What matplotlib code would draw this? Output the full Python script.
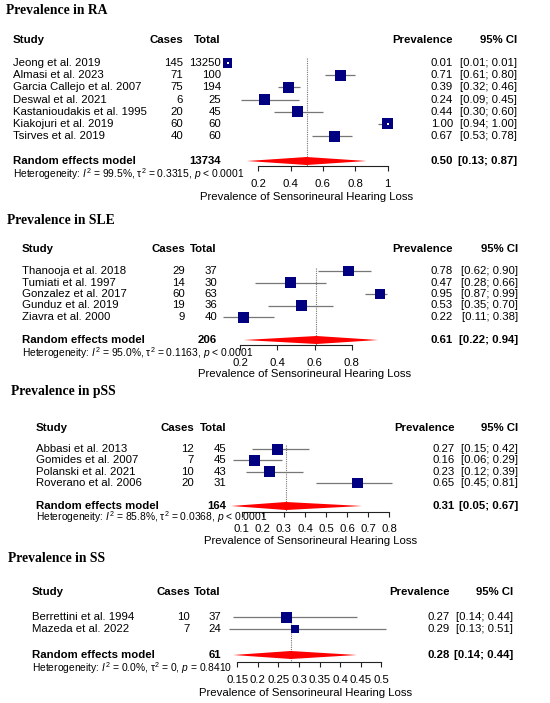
import numpy as np
import matplotlib.pyplot as plt
from matplotlib.transforms import blended_transform_factory

plt.rcParams['font.family'] = ['Liberation Sans', 'DejaVu Sans']
plt.rcParams['mathtext.fontset'] = 'custom'
plt.rcParams['mathtext.rm'] = 'Liberation Sans'
plt.rcParams['mathtext.it'] = 'Liberation Sans:italic'
plt.rcParams['mathtext.bf'] = 'Liberation Sans:bold'

W, H = 550, 703

# ---- RA ----
ra_studies = ["Jeong et al. 2019", "Almasi et al. 2023", "Garcia Callejo et al. 2007",
              "Deswal et al. 2021", "Kastanioudakis et al. 1995", "Kiakojuri et al. 2019",
              "Tsirves et al. 2019"]
ra_cases = [145, 71, 75, 6, 20, 60, 40]
ra_total = [13250, 100, 194, 25, 45, 60, 60]
ra_prev = [0.01, 0.71, 0.39, 0.24, 0.44, 1.00, 0.67]
ra_lower = [0.01, 0.61, 0.32, 0.09, 0.30, 0.94, 0.53]
ra_upper = [0.01, 0.80, 0.46, 0.45, 0.60, 1.00, 0.78]
ra_weight = [10.6, 14.9, 15.0, 14.8, 14.9, 14.9, 14.9]
ra_pooled = [0.50, 0.13, 0.87]
ra_n = 13734
ra_het = r"Heterogeneity: $I^2$ = 99.5%, $\mathrm{\tau}^2$ = 0.3315, $p$ < 0.0001"
ra_ticks = [0.2, 0.4, 0.6, 0.8, 1.0]

# ---- SLE ----
sle_studies = ["Thanooja et al. 2018", "Tumiati et al. 1997", "Gonzalez et al. 2017",
               "Gunduz et al. 2019", "Ziavra et al. 2000"]
sle_cases = [29, 14, 60, 19, 9]
sle_total = [37, 30, 63, 36, 40]
sle_prev = [0.78, 0.47, 0.95, 0.53, 0.22]
sle_lower = [0.62, 0.28, 0.87, 0.35, 0.11]
sle_upper = [0.90, 0.66, 0.99, 0.70, 0.38]
sle_weight = [20.3, 20.1, 18.9, 20.3, 20.4]
sle_pooled = [0.61, 0.22, 0.94]
sle_n = 206
sle_het = r"Heterogeneity: $I^2$ = 95.0%, $\mathrm{\tau}^2$ = 0.1163, $p$ < 0.0001"
sle_ticks = [0.2, 0.4, 0.6, 0.8]

# ---- pSS ----
pss_studies = ["Abbasi et al. 2013", "Gomides et al. 2007", "Polanski et al. 2021",
               "Roverano et al. 2006"]
pss_cases = [12, 7, 10, 20]
pss_total = [45, 45, 43, 31]
pss_prev = [0.27, 0.16, 0.23, 0.65]
pss_lower = [0.15, 0.06, 0.12, 0.45]
pss_upper = [0.42, 0.29, 0.39, 0.81]
pss_weight = [25.8, 23.4, 25.2, 25.6]
pss_pooled = [0.31, 0.05, 0.67]
pss_n = 164
pss_het = r"Heterogeneity: $I^2$ = 85.8%, $\mathrm{\tau}^2$ = 0.0368, $p$ < 0.0001"
pss_ticks = [0.1, 0.2, 0.3, 0.4, 0.5, 0.6, 0.7, 0.8]

# ---- SS ----
ss_studies = ["Berrettini et al. 1994", "Mazeda et al. 2022"]
ss_cases = [10, 7]
ss_total = [37, 24]
ss_prev = [0.27, 0.29]
ss_lower = [0.14, 0.13]
ss_upper = [0.44, 0.51]
ss_weight = [64.0, 36.0]
ss_pooled = [0.28, 0.14, 0.44]
ss_n = 61
ss_het = r"Heterogeneity: $I^2$ = 0.0%, $\mathrm{\tau}^2$ = 0, $p$ = 0.8410"
ss_ticks = [0.15, 0.2, 0.25, 0.3, 0.35, 0.4, 0.45, 0.5]

FS = 8.2
NAVY = '#000080'
GREY = '#777777'

fig = plt.figure(figsize=(W / 100, H / 100), dpi=100)
fig.patch.set_facecolor('white')


def forest(title, studies, cases, total, prev, lower, upper, weight, pooled, n, het, ticks, lay):
    ax = fig.add_axes([0, 0, 1, 1])
    ax.set_facecolor('none')
    x0, sc = lay['x0'], lay['scale']
    y1, pitch = lay['first'], lay['pitch']
    ax.set_xlim(-x0 / sc, (W - x0) / sc)
    ax.set_ylim(1 + (H - y1) / pitch, 1 - y1 / pitch)

    def row(py):
        return 1 + (py - y1) / pitch

    tr = blended_transform_factory(ax.transAxes, ax.transData)

    def txt(px, r, s, ha='left', bold=False, size=FS):
        ax.text(px / W, r, s, transform=tr, ha=ha, va='center', fontsize=size,
                fontweight='bold' if bold else 'normal')

    k = len(studies)
    rows = np.arange(1, k + 1)
    cx = lay['cols']

    # panel title and column headers
    ax.text(lay['title'][0] / W, row(lay['title'][1]), title, transform=tr, ha='left',
            va='center', fontsize=9.8, fontweight='bold', family='Liberation Serif')
    hr = row(lay['header'])
    txt(cx[0], hr, "Study", bold=True)
    txt(cx[1], hr, "Cases", ha='right', bold=True)
    txt(cx[2], hr, "Total", ha='right', bold=True)
    txt(cx[3], hr, "Prevalence", ha='right', bold=True)
    txt(cx[4], hr, "95% CI", ha='right', bold=True)

    # dotted line at the pooled estimate
    ax.vlines(pooled[0], row(lay['ref_top']), row(lay['axis']), colors=GREY,
              linestyles=(0, (1, 1)), lw=0.8, zorder=1)

    # study CIs and boxes (box area ~ weight)
    ax.hlines(rows, lower, upper, colors=GREY, lw=0.9, zorder=2)
    w = np.array(weight)
    box = 11.0 * np.sqrt(w / w.max())
    ax.scatter(prev, rows, s=(box * 0.72) ** 2, marker='s', color=NAVY, lw=0, zorder=3)
    inside = (np.array(upper) - np.array(lower)) * sc < box
    if inside.any():
        ax.scatter(np.array(prev)[inside], rows[inside], s=2.5, marker='s',
                   color='white', lw=0, zorder=4)

    for i in range(k):
        txt(cx[0], rows[i], studies[i])
        txt(cx[1], rows[i], str(cases[i]), ha='right')
        txt(cx[2], rows[i], str(total[i]), ha='right')
        txt(cx[3], rows[i], f"{prev[i]:.2f}", ha='right')
        txt(cx[4], rows[i], f"[{lower[i]:.2f}; {upper[i]:.2f}]", ha='right')

    # pooled diamond
    rr = row(lay['random'])
    h = 4.0 / pitch
    ax.fill([pooled[1], pooled[0], pooled[2], pooled[0]], [rr, rr - h, rr, rr + h],
            color='red', lw=0, zorder=3)
    txt(cx[0], rr, "Random effects model", bold=True)
    txt(cx[2], rr, str(n), ha='right', bold=True)
    txt(cx[3], rr, f"{pooled[0]:.2f}", ha='right', bold=True)
    txt(cx[4], rr, f"[{pooled[1]:.2f}; {pooled[2]:.2f}]", ha='right', bold=True)
    txt(cx[0], row(lay['het']), het, size=7.4)

    # x axis drawn at the row below the diamond
    for s in ['top', 'left', 'right']:
        ax.spines[s].set_visible(False)
    ax.spines['bottom'].set_position(('data', row(lay['axis'])))
    ax.spines['bottom'].set_bounds(ticks[0], ticks[-1])
    ax.spines['bottom'].set_linewidth(0.8)
    ax.spines['bottom'].set_color('#222222')
    ax.set_yticks([])
    ax.set_xticks(ticks, [f"{t:g}" for t in ticks])
    ax.tick_params(axis='x', direction='out', length=3.6, width=0.8, color='#222222',
                   labelsize=FS, pad=lay['pad'])
    ax.set_xlabel("Prevalence of Sensorineural Hearing Loss", fontsize=FS)
    ax.xaxis.set_label_coords(lay['xlab'][0] / W, 1 - lay['xlab'][1] / H)
    ax.xaxis.label.set_verticalalignment('center')
    return ax


ra_lay = dict(x0=226, scale=161.5, title=(6, 11), header=40, cols=(13, 183, 221, 453, 517),
              first=63, pitch=12.17, random=161, het=174, axis=166, ref_top=58,
              pad=6.0, xlab=(307, 197))
sle_lay = dict(x0=202.7, scale=186.5, title=(7, 220), header=249, cols=(22, 185, 217, 453, 518),
               first=271, pitch=11.5, random=340, het=353, axis=345, ref_top=268,
               pad=6.0, xlab=(305, 374))
pss_lay = dict(x0=220.6, scale=211, title=(11, 392), header=428, cols=(36, 194, 226, 455, 518),
               first=449, pitch=11.33, random=506, het=517, axis=512, ref_top=445,
               pad=5.2, xlab=(311, 541))
ss_lay = dict(x0=175.5, scale=412, title=(8, 559), header=592, cols=(32, 190, 221, 450, 513),
              first=617, pitch=12.0, random=655, het=668, axis=662, ref_top=613,
              pad=6.0, xlab=(306, 693))

forest("Prevalence in RA", ra_studies, ra_cases, ra_total, ra_prev, ra_lower, ra_upper,
       ra_weight, ra_pooled, ra_n, ra_het, ra_ticks, ra_lay)
forest("Prevalence in SLE", sle_studies, sle_cases, sle_total, sle_prev, sle_lower, sle_upper,
       sle_weight, sle_pooled, sle_n, sle_het, sle_ticks, sle_lay)
forest("Prevalence in pSS", pss_studies, pss_cases, pss_total, pss_prev, pss_lower, pss_upper,
       pss_weight, pss_pooled, pss_n, pss_het, pss_ticks, pss_lay)
forest("Prevalence in SS", ss_studies, ss_cases, ss_total, ss_prev, ss_lower, ss_upper,
       ss_weight, ss_pooled, ss_n, ss_het, ss_ticks, ss_lay)

fig.savefig("out.png", dpi=100)
